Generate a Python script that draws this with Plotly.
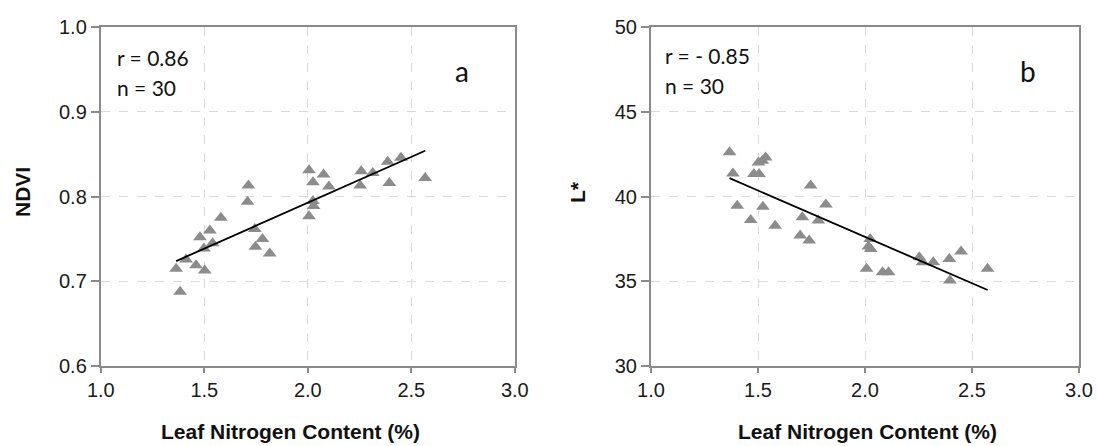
import numpy as np
import plotly.graph_objects as go

# Panel a: Leaf N (%) vs NDVI
n_a = [1.364, 1.383, 1.412, 1.460, 1.479, 1.498, 1.502, 1.527, 1.540, 1.580,
       1.713, 1.709, 1.744, 1.747, 1.781, 1.816, 2.006, 2.025, 2.006, 2.028,
       2.025, 2.076, 2.102, 2.258, 2.253, 2.314, 2.386, 2.394, 2.450, 2.567]
ndvi = [0.715, 0.688, 0.726, 0.719, 0.752, 0.739, 0.713, 0.760, 0.745, 0.775,
        0.813, 0.794, 0.762, 0.741, 0.750, 0.733, 0.831, 0.817, 0.777, 0.789,
        0.795, 0.826, 0.812, 0.830, 0.813, 0.828, 0.841, 0.816, 0.846, 0.822]

# Panel b: Leaf N (%) vs L*
n_b = [1.367, 1.383, 1.403, 1.466, 1.502, 1.536, 1.481, 1.505, 1.523, 1.580,
       1.707, 1.697, 1.739, 1.746, 1.782, 1.817, 2.024, 2.016, 2.027, 2.007,
       2.082, 2.110, 2.254, 2.269, 2.319, 2.394, 2.397, 2.449, 2.573, 1.520]
lstar = [42.61, 41.37, 39.47, 38.63, 42.02, 42.31, 41.33, 41.33, 39.41, 38.29,
         38.78, 37.71, 37.41, 40.65, 38.59, 39.53, 37.51, 37.06, 36.92, 35.75,
         35.55, 35.55, 36.43, 36.14, 36.14, 36.33, 35.06, 36.76, 35.75, 42.12]

x_ticks = [1.0, 1.5, 2.0, 2.5, 3.0]
ya_ticks = [0.6, 0.7, 0.8, 0.9, 1.0]
yb_ticks = [30, 35, 40, 45, 50]

W, H = 1098, 446
MARK = "#8c8c8c"
AX = "#8a8a8a"

def fit_line(x, y):
    k, b = np.polyfit(x, y, 1)
    xs = np.array([min(x), max(x)])
    return xs, k * xs + b

fig = go.Figure()
fig.add_trace(go.Scatter(x=n_a, y=ndvi, mode="markers", xaxis="x", yaxis="y",
                         marker=dict(symbol="triangle-up", size=12, color=MARK,
                                     line=dict(width=0))))
lx, ly = fit_line(n_a, ndvi)
fig.add_trace(go.Scatter(x=lx, y=ly, mode="lines", xaxis="x", yaxis="y",
                         line=dict(color="black", width=1.8)))
fig.add_trace(go.Scatter(x=n_b, y=lstar, mode="markers", xaxis="x2", yaxis="y2",
                         marker=dict(symbol="triangle-up", size=12, color=MARK,
                                     line=dict(width=0))))
lx, ly = fit_line(n_b, lstar)
fig.add_trace(go.Scatter(x=lx, y=ly, mode="lines", xaxis="x2", yaxis="y2",
                         line=dict(color="black", width=1.8)))

tickfont = dict(family="Liberation Sans, Arial", size=20, color="#1a1a1a")
common_x = dict(range=[1.0, 3.0], tickvals=x_ticks, ticktext=[f"{v:.1f}" for v in x_ticks],
                showline=True, linecolor=AX, linewidth=2, mirror=True,
                ticks="outside", ticklen=5, tickcolor=AX, tickwidth=1.5,
                showgrid=True, gridcolor="#d9d9d9", griddash="dash", gridwidth=1,
                zeroline=False, tickfont=tickfont, automargin=False)
common_y = dict(showline=True, linecolor=AX, linewidth=2, mirror=True,
                ticks="outside", ticklen=8, tickcolor=AX, tickwidth=1.5,
                showgrid=True, gridcolor="#d9d9d9", griddash="dash", gridwidth=1,
                zeroline=False, tickfont=tickfont, automargin=False)

dom_y = [1 - 366.3 / H, 1 - 27 / H]
fig.update_layout(
    width=W, height=H, autosize=False, margin=dict(l=0, r=0, t=0, b=0, pad=0, autoexpand=False),
    paper_bgcolor="white", plot_bgcolor="white", showlegend=False,
    xaxis=dict(domain=[100.8 / W, 514.8 / W], anchor="y", **common_x),
    xaxis2=dict(domain=[651 / W, 1079 / W], anchor="y2", **common_x),
    yaxis=dict(domain=dom_y, anchor="x", range=[0.6, 1.0], tickvals=ya_ticks,
               ticktext=[f"{v:.1f}" for v in ya_ticks], **common_y),
    yaxis2=dict(domain=dom_y, anchor="x2", range=[30, 50], tickvals=yb_ticks,
                ticktext=[str(v) for v in yb_ticks], **common_y),
)

def ann(text, X, Y, size, family, bold=False, angle=0, xanchor="center"):
    fig.add_annotation(text=f"<b>{text}</b>" if bold else text,
                       x=X / W, y=1 - Y / H, xref="paper", yref="paper",
                       xanchor=xanchor, yanchor="middle", showarrow=False,
                       textangle=angle,
                       font=dict(family=family, size=size, color="#111111"))

bold_font = "Liberation Sans, Arial"
ann("NDVI", 22, 192, 21, bold_font, bold=True, angle=-90)
ann("L*", 577, 192, 21, bold_font, bold=True, angle=-90)
ann("Leaf Nitrogen Content (%)", 290.5, 431, 21, bold_font, bold=True)
ann("Leaf Nitrogen Content (%)", 867.6, 431, 21, bold_font, bold=True)

txt_font = "Lato, Open Sans"
ann("r = 0.86", 115, 57, 21, txt_font, xanchor="left")
ann("n = 30", 115, 87, 21, txt_font, xanchor="left")
ann("r = - 0.85", 663, 55, 21, txt_font, xanchor="left")
ann("n = 30", 663, 85, 21, txt_font, xanchor="left")
ann("a", 462, 71, 28, txt_font)
ann("b", 1028, 71, 28, txt_font)

fig.write_html("out.html", config={"responsive": False, "displayModeBar": False},
               post_script="document.body.style.margin='0';document.body.style.overflow='hidden';")
